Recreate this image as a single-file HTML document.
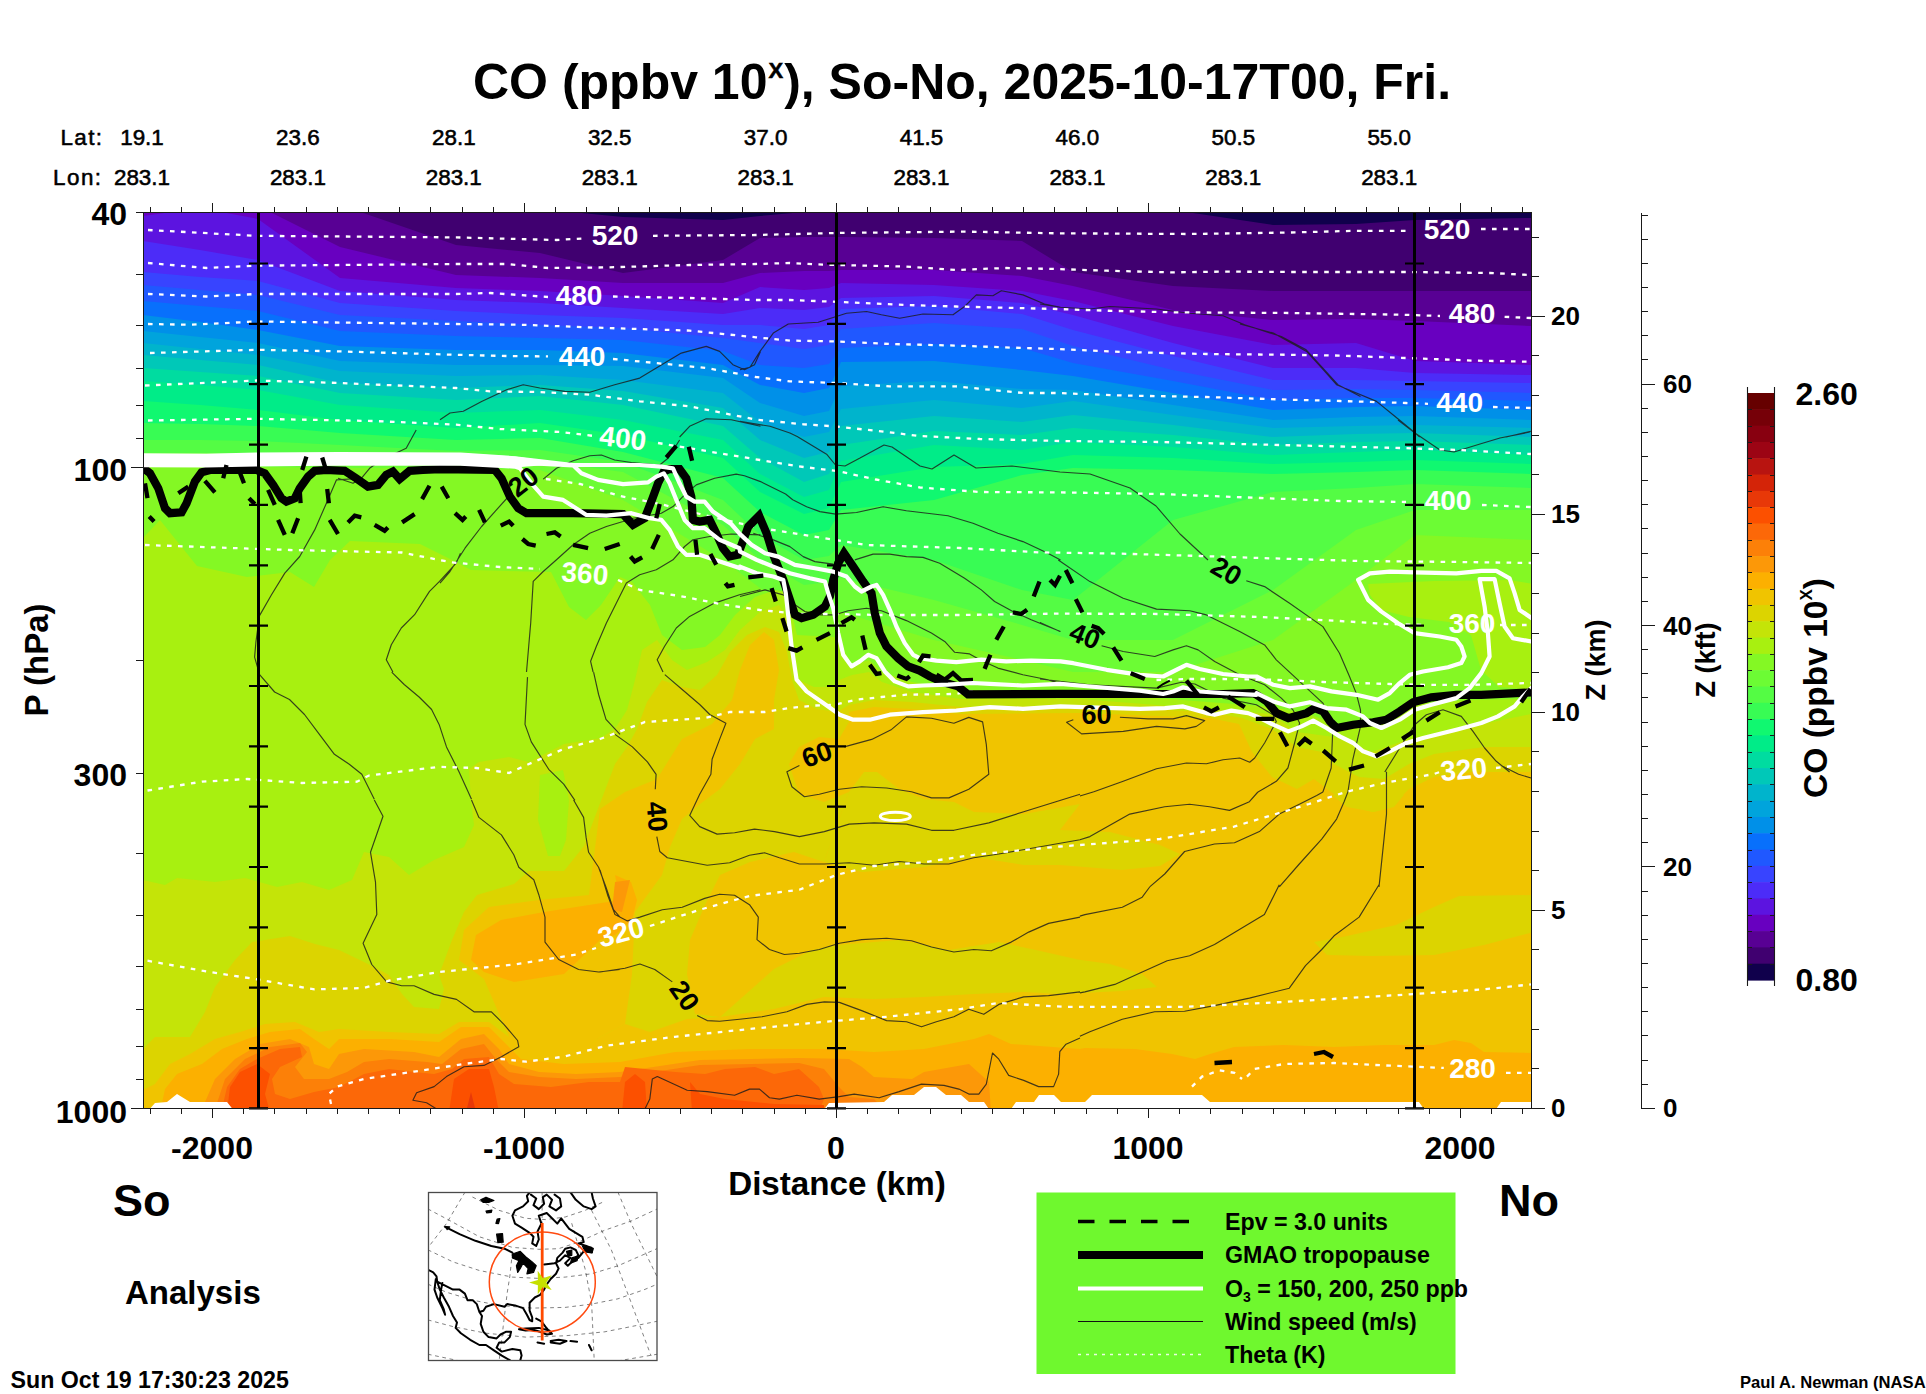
<!DOCTYPE html><html><head><meta charset="utf-8"><title>CO cross-section</title><style>
html,body{margin:0;padding:0;background:#fff;overflow:hidden}
svg{display:block}text{font-family:"Liberation Sans",sans-serif;font-weight:bold;fill:#000}
</style></head><body>
<svg width="1926" height="1394" viewBox="0 0 1926 1394">
<rect width="1926" height="1394" fill="#fff"/>
<defs><clipPath id="pc"><rect x="143.5" y="212.5" width="1388.0" height="896.0"/></clipPath></defs>
<g clip-path="url(#pc)">
<rect x="142.5" y="211.5" width="1390.0" height="898.0" fill="#10004c"/>
<path d="M142 193L143 193L200 188L258 194L340 199L456 204L540 209L623 217L723 220L760 216L804 212L829 210L841 208L934 207L1022 208L1073 209L1173 210L1273 225L1356 224L1415 220L1531 218L1534 218V1110H142Z" fill="#400070"/>
<path d="M142 199L143 199L200 194L258 200L340 205L456 245L540 253L623 273L723 260L760 238L804 237L829 237L841 237L934 238L1022 241L1073 272L1173 286L1273 291L1356 291L1415 291L1531 291L1534 291V1110H142Z" fill="#580094"/>
<path d="M142 205L143 205L200 200L258 206L340 247L456 275L540 278L623 283L723 283L760 273L804 271L829 271L841 270L934 270L1022 276L1073 286L1173 310L1273 320L1356 319L1415 321L1531 326L1534 326V1110H142Z" fill="#6800c0"/>
<path d="M142 216L143 216L200 208L258 219L340 278L456 288L540 291L623 296L723 303L760 287L804 290L829 288L841 283L934 285L1022 291L1073 301L1173 326L1273 345L1356 343L1415 361L1531 365L1534 365V1110H142Z" fill="#5c14e0"/>
<path d="M142 241L143 241L200 250L258 260L340 291L456 300L540 303L623 308L723 314L760 308L804 310L829 307L841 298L934 296L1022 303L1073 315L1173 343L1273 368L1356 368L1415 373L1531 375L1534 375V1110H142Z" fill="#4c2cf8"/>
<path d="M142 272L143 272L200 277L258 281L340 303L456 311L540 315L623 318L723 325L760 325L804 329L829 325L841 309L934 306L1022 314L1073 330L1173 356L1273 380L1356 380L1415 381L1531 383L1534 383V1110H142Z" fill="#3844ff"/>
<path d="M142 285L143 285L200 290L258 295L340 315L456 321L540 325L623 328L723 338L760 343L804 349L829 345L841 329L934 323L1022 329L1073 346L1173 370L1273 390L1356 389L1415 390L1531 393L1534 393V1110H142Z" fill="#2058ff"/>
<path d="M142 301L143 301L200 306L258 311L340 331L456 336L540 338L623 340L723 351L760 365L804 368L829 364L841 348L934 344L1022 348L1073 363L1173 381L1273 400L1356 398L1415 398L1531 401L1534 401V1110H142Z" fill="#0870fc"/>
<path d="M142 315L143 315L200 322L258 330L340 346L456 350L540 350L623 353L723 365L760 385L804 393L829 388L841 362L934 361L1022 370L1073 376L1173 393L1273 410L1356 407L1415 406L1531 410L1534 410V1110H142Z" fill="#0090e8"/>
<path d="M142 331L143 331L200 337L258 343L340 361L456 365L540 365L623 366L723 378L760 403L804 416L829 411L841 386L934 381L1022 389L1073 390L1173 405L1273 420L1356 417L1415 416L1531 420L1534 420V1110H142Z" fill="#00a4dc"/>
<path d="M142 343L143 343L200 349L258 355L340 371L456 376L540 375L623 380L723 393L760 422L804 437L829 432L841 409L934 400L1022 408L1073 401L1173 415L1273 428L1356 426L1415 425L1531 428L1534 428V1110H142Z" fill="#00b4cc"/>
<path d="M142 355L143 355L200 360L258 365L340 383L456 388L540 385L623 391L723 408L760 440L804 458L829 452L841 426L934 416L1022 422L1073 415L1173 425L1273 437L1356 434L1415 433L1531 437L1534 437V1110H142Z" fill="#00c8b8"/>
<path d="M142 368L143 368L200 372L258 376L340 393L456 400L540 396L623 405L723 426L760 458L804 482L829 474L841 445L934 431L1022 435L1073 428L1173 435L1273 445L1356 442L1415 441L1531 445L1534 445V1110H142Z" fill="#00dca0"/>
<path d="M142 381L143 381L200 385L258 390L340 405L456 413L540 410L623 420L723 440L760 474L804 497L829 490L841 461L934 445L1022 450L1073 442L1173 447L1273 455L1356 452L1415 450L1531 455L1534 455V1110H142Z" fill="#00ec88"/>
<path d="M142 401L143 401L200 405L258 410L340 420L456 428L540 423L623 435L723 458L760 492L804 514L829 508L841 482L934 467L1022 464L1073 455L1173 458L1273 464L1356 462L1415 460L1531 464L1534 464V1110H142Z" fill="#10f870"/>
<path d="M142 423L143 423L200 424L258 426L340 433L456 440L540 438L623 452L723 478L760 512L804 535L829 530L841 510L934 500L1022 475L1073 468L1173 470L1273 474L1356 472L1415 470L1531 474L1534 474V1110H142Z" fill="#38fc54"/>
<path d="M142 440L143 440L200 440L258 441L340 445L456 451L540 450L623 462L723 500L760 535L804 560L829 556L841 545L934 560L1022 590L1073 600L1173 520L1273 492L1356 488L1415 484L1531 488L1534 488V1110H142Z" fill="#54fc44"/>
<path d="M142 453L143 453L200 453L258 454L340 456L456 460L540 461L623 472L723 525L760 560L804 585L829 582L841 578L934 600L1022 625L1073 640L1173 640L1273 590L1356 530L1415 510L1531 510L1534 510V1110H142Z" fill="#6cfc34"/>
<path d="M142 467L143 467L200 467L258 467L340 468L456 468L540 470L623 500L723 560L760 588L804 610L829 611L841 612L934 640L1022 660L1073 672L1173 672L1273 640L1356 580L1415 535L1531 540L1534 540V1110H142Z" fill="#84f824"/>
<path d="M140 538L143 538L160 520L172 535L197 566L247 577L290 572L314 587L330 560L350 541L420 544L452 560L471 570L551 572L569 607L586 620L601 605L620 577L632 582L650 605L662 635L682 650L705 647L720 635L735 615L755 597L775 590L787 592L797 635L834 637L839 642L852 665L869 660L882 672L912 682L961 690L1080 692L1272 707L1309 714L1334 724L1372 724L1414 704L1470 700L1531 699L1534 699L1534 1112L140 1112Z" fill="#a8f010"/>
<path d="M1368 584L1434 581L1509 580L1534 584L1534 690L1499 687L1481 670L1471 635L1449 622L1409 617L1381 610L1370 595Z" fill="#a8f010"/>
<path d="M140 880L143 880L165 885L177 878L215 882L245 878L277 887L302 882L329 890L352 880L364 852L389 857L409 875L434 860L464 847L474 825L471 800L469 769L479 762L509 757L529 762L539 757L564 744L601 738L615 729L627 710L635 680L642 650L657 640L672 660L687 670L707 662L725 650L740 630L760 612L779 605L789 622L794 665L799 680L814 687L834 687L839 680L852 675L869 672L882 682L912 692L961 699L1080 699L1272 714L1297 732L1334 737L1372 752L1409 739L1459 729L1531 714L1534 714L1534 1112L140 1112Z" fill="#c4e408"/>
<path d="M540 775L563 770L569 800L566 840L560 856L548 856L538 820Z" fill="#a8f010"/>
<path d="M140 1049L143 1049L155 1037L190 1037L205 1012L215 987L235 960L252 942L290 936L315 944L339 950L364 962L389 975L402 994L414 1007L439 1009L444 989L439 975L452 940L464 912L477 895L514 884L529 871L564 871L584 846L596 814L615 764L627 747L637 729L647 702L662 680L682 687L700 690L717 675L730 652L747 635L765 627L779 632L787 652L792 680L799 700L817 709L837 712L849 705L874 700L912 702L961 707L1080 706L1210 712L1242 718L1272 729L1297 747L1322 752L1334 764L1359 777L1384 779L1409 764L1434 754L1484 747L1531 747L1534 747L1534 1112L140 1112Z" fill="#dcd400"/>
<path d="M155 1084L170 1064L190 1054L215 1039L240 1032L265 1024L295 1022L319 1032L339 1029L389 1032L439 1034L459 1022L489 1022L509 1037L484 979L459 960L464 930L489 907L539 900L589 895L600 809L625 792L657 779L682 739L712 724L732 700L740 670L750 645L764 632L774 640L779 670L774 700L774 729L755 739L740 764L720 789L700 804L682 819L670 847L662 875L635 912L632 974L625 1024L600 1037L590 1045L600 1112L143 1112L143 1090Z" fill="#f0c400"/>
<path d="M789 764L799 747L819 737L839 739L849 722L849 712L874 707L912 709L961 714L1080 713L1210 718L1239 724L1252 752L1272 777L1297 789L1314 779L1347 804L1372 812L1391 807L1409 789L1434 777L1471 772L1534 772L1535 1112L590 1112L590 1045L600 1037L625 1024L650 1032L687 1019L720 1017L695 1014L687 974L690 940L705 905L720 875L750 862L794 852L824 862L849 792L824 802L799 794Z" fill="#f0c400"/>
<path d="M864 772L877 772L899 789L924 799L954 802L974 812L1024 814L1080 804L1060 830L1110 832L1160 845L1180 854L1160 866L1122 870L1060 865L1024 865L974 857L924 867L862 872L824 862L849 792Z" fill="#dcd400"/>
<path d="M720 1017L774 969L812 950L837 945L899 940L949 950L999 942L1036 950L1080 960L1060 957L1110 964L1142 974L1157 987L1122 991L1060 994L1024 992L974 994L924 997L874 999L824 997L774 1009Z" fill="#dcd400"/>
<path d="M1314 942L1347 936L1396 925L1434 907L1459 896L1534 895L1534 932L1484 945L1434 955L1372 956L1327 955Z" fill="#dcd400"/>
<path d="M1332 795L1347 807L1374 812L1394 807L1404 795Z" fill="#dcd400"/>
<path d="M165 1089L177 1074L202 1064L222 1049L247 1039L270 1032L300 1029L314 1039L329 1049L339 1039L389 1039L439 1042L461 1027L489 1027L506 1044L521 1059L564 1064L620 1062L675 1052L750 1049L824 1049L874 1052L924 1049L974 1039L989 1034L1011 1044L1080 1049L1085 1048L1135 1049L1172 1054L1195 1059L1210 1054L1234 1047L1284 1045L1334 1047L1384 1045L1434 1045L1454 1040L1471 1043L1484 1052L1534 1053L1535 1112L160 1112Z" fill="#fcb000"/>
<path d="M471 960L476 935L501 920L544 912L589 905L620 900L615 875L631 882L637 900L632 920L615 935L600 940L564 974L514 982L484 972Z" fill="#fcb000"/>
<path d="M615 882L630 880L622 912L612 910Z" fill="#fc9808"/>
<path d="M202 1109L215 1079L235 1059L260 1044L290 1039L309 1047L314 1064L329 1069L339 1054L364 1049L414 1052L439 1057L461 1039L484 1034L499 1049L509 1064L539 1072L576 1074L620 1072L700 1060L799 1058L849 1059L862 1067L874 1077L912 1079L924 1072L969 1064L989 1082L991 1112L225 1112Z" fill="#fc9808"/>
<path d="M215 1109L225 1079L245 1059L270 1047L300 1043L307 1052L295 1067L304 1079L329 1079L347 1072L364 1062L389 1059L427 1062L442 1064L461 1049L484 1044L496 1059L509 1072L539 1077L576 1079L620 1077L700 1065L799 1063L824 1069L839 1087L849 1097L874 1099L887 1112L230 1112Z" fill="#fc8008"/>
<path d="M222 1109L227 1087L240 1069L257 1059L280 1049L300 1047L302 1057L280 1067L272 1079L275 1094L290 1099L314 1092L339 1087L364 1074L389 1069L414 1072L434 1074L452 1069L464 1059L489 1057L499 1074L514 1084L551 1087L589 1082L620 1082L625 1067L675 1072L705 1074L725 1069L755 1067L774 1074L799 1069L819 1087L824 1099L819 1112L240 1112Z" fill="#fc6808"/>
<path d="M227 1112L230 1087L240 1072L257 1064L270 1074L265 1094L270 1112Z" fill="#fc5000"/>
<path d="M449 1112L454 1079L469 1069L489 1069L494 1087L499 1112Z" fill="#fc5000"/>
<path d="M466 1112L471 1092L476 1112Z" fill="#e83808"/>
<path d="M622 1112L625 1082L635 1074L645 1082L647 1112Z" fill="#fc5000"/>
<path d="M692 1112L690 1082L700 1094L725 1099L774 1104L824 1105L824 1112Z" fill="#fc5000"/>
<path d="M147 1112L155 1103L167 1102L177 1094L190 1102L227 1102L235 1112Z" fill="#fff"/>
<path d="M822 1112L829 1103L884 1102L892 1095L914 1095L924 1087L936 1087L946 1095L961 1095L969 1102L984 1102L991 1112Z" fill="#fff"/>
<path d="M1009 1112L1016 1102L1034 1102L1039 1095L1054 1095L1061 1102L1080 1102L1085 1102L1092 1095L1202 1095L1210 1102L1419 1102L1426 1112Z" fill="#fff"/>
<path d="M1494 1112L1501 1102L1534 1102L1534 1112Z" fill="#fff"/>
<path d="M416.2 430.0L406.2 448.3L381.3 460.0L369.6 468.3L361.3 478.3L336.4 479.9L326.4 503.2L314.7 529.9L299.7 556.5L284.8 573.1L271.5 594.8L258.1 618.1M338.0 478.3L353.0 483.3L361.3 478.3M460.5 553.2L456.2 563.1L439.5 581.4L429.5 591.4L414.6 614.7L401.3 628.0L391.3 644.7L386.3 659.7L392.9 672.0M543.2 479.1L556.5 468.3L573.1 460.8L589.8 455.8L601.4 455.0L614.7 460.0L631.4 462.5L648.0 464.1L659.7 465.0L668.0 458.3L679.6 440.0M509.9 494.9L494.9 511.6L481.6 526.5L465.0 548.2L450.0 571.5L440.0 583.1M526.5 672.0L530.7 623.0L533.2 581.4L543.2 571.5L556.5 559.8L573.1 544.8L589.8 533.2L606.4 526.5L623.0 521.5L633.0 518.2L661.3 513.2L673.0 506.6L686.3 493.2L696.3 484.9L714.6 478.3L736.2 474.1L744.5 475.8L760.5 481.6M593.1 672.0L590.6 661.3L596.4 646.3L606.4 623.0L616.4 603.1L626.4 583.1L639.7 574.8L656.3 569.8L673.0 559.8L684.6 546.5L692.9 539.8L709.6 536.5L731.2 534.0L760.5 534.9M663.0 672.0L657.2 659.7L664.6 646.3L676.3 628.0L689.6 616.4L714.6 603.1L739.5 594.8L760.5 589.8M793.2 500.0L806.6 506.7L819.9 511.6L835.7 514.1L856.5 512.5L883.1 506.7L906.4 510.8L948.0 515.8L973.0 523.3L997.9 533.3L1022.9 541.6L1047.9 553.2L1060.5 559.9M753.3 533.3L773.3 539.9L789.9 546.6L803.2 556.6L814.9 561.6L833.2 564.1M854.8 559.9L873.1 554.1L889.8 554.1L906.4 556.6L923.0 557.4L939.7 563.2L964.6 578.2L981.3 589.9L994.6 601.5L1012.9 611.5L1031.2 619.8L1060.5 631.5M740.0 596.5L765.0 589.9L783.3 594.9L794.9 604.8L804.9 611.5L819.9 614.8L834.9 614.8L848.2 610.7L866.5 608.2L881.4 610.7L906.4 620.6L931.4 633.1L944.7 641.4L954.7 652.3L969.6 653.9L981.3 660.6L997.9 668.1L1022.9 674.7L1047.9 679.7L1060.5 683.9M440.0 419.7L450.0 413.0L463.3 411.3L481.6 401.4L506.6 389.7L523.2 384.7L539.8 388.0L564.8 391.4L589.8 392.2L614.7 384.7L639.7 378.1L664.6 363.1L681.3 353.1L706.2 346.4L719.6 351.4L732.9 364.7L744.5 369.7L754.5 364.7L760.5 351.4M679.6 437.0L689.6 426.3L706.2 418.8L731.2 419.7L760.5 426.3M740.0 369.7L750.0 367.2L760.0 351.4L773.3 333.1L788.3 324.0L818.2 322.3L846.5 313.2L866.5 311.5L881.4 314.8L899.7 318.2L923.0 314.0L953.0 314.8L964.6 306.5L976.3 294.9L992.9 295.7L1001.3 290.7L1022.9 294.9L1044.5 304.0L1060.5 307.3M740.0 421.3L770.0 426.3L789.9 433.0L798.2 437.0M1040.0 304.0L1060.0 307.3L1089.9 309.0L1109.9 306.5L1156.5 309.0L1189.8 313.2L1223.0 315.7L1244.7 324.8L1281.3 336.5L1306.2 349.8L1322.9 368.1L1337.9 384.7L1360.5 396.4M1240.0 324.0L1273.3 333.1L1306.6 351.4L1323.2 369.7L1336.5 384.7L1356.5 393.0L1376.5 401.4L1394.8 416.3L1413.1 431.3L1419.7 437.0M1506.2 437.0L1530.9 431.3M860.0 458.0L884.0 445.0L892.0 447.0L920.0 466.0L932.0 469.0L954.0 455.0L976.0 468.0L1012.0 466.0L1060.0 472.0L1090.0 474.0L1130.0 488.0L1156.0 506.0L1180.0 534.0L1208.0 560.0M1398.0 420.0L1415.0 433.0L1440.0 450.0L1454.0 452.0L1480.0 444.0L1500.0 438.0L1530.0 432.0M798.0 437.0L827.0 454.6L835.5 465.0L845.0 466.0L860.0 458.0M760.5 481.6L785.6 494.0L793.0 500.0M1058.3 560.0L1089.9 581.6L1123.2 598.3L1156.5 609.1L1189.8 610.8L1206.4 614.9L1239.7 631.6L1264.6 644.9L1276.3 659.8L1297.9 679.8L1322.9 703.1L1332.9 726.4L1331.2 768.0L1322.9 792.0M1246.3 580.8L1264.6 586.6L1289.6 603.3L1322.9 626.6L1339.5 653.2L1349.5 676.5L1356.2 693.1L1360.5 709.8L1360.5 726.4L1352.8 759.7L1347.9 792.0M1040.0 622.4L1060.0 631.6M1101.6 645.7L1123.2 651.5L1154.8 656.5L1173.1 649.9L1186.4 645.7L1198.1 649.9L1214.7 661.5L1239.7 674.8L1264.6 684.8L1281.3 698.1L1292.9 709.8L1299.6 723.1L1294.6 743.0L1287.9 768.0L1276.3 781.3L1258.0 792.0M1040.0 679.0L1089.9 684.8L1156.5 688.1L1181.4 682.3L1194.8 684.0L1223.0 698.1L1256.3 704.8L1273.0 714.8L1276.3 721.4L1264.6 743.0L1254.7 758.0L1249.7 762.2L1239.7 758.0L1223.0 759.7L1206.4 763.8L1186.4 763.0L1156.5 768.8L1123.2 781.3L1093.2 792.0M1073.3 719.7L1066.6 722.2L1081.6 733.9L1123.2 731.4L1156.5 726.4L1184.8 728.9L1196.4 726.4L1204.7 720.6L1186.4 715.6L1173.1 718.9L1148.2 718.9L1119.9 717.3M1384.8 772.0L1399.7 748.0L1414.7 724.7L1426.4 714.7L1443.0 709.7L1461.3 716.4L1473.0 731.4L1484.6 748.0L1496.3 761.3L1509.6 772.0M259.6 614.8L255.9 642.2L254.6 657.1L259.6 674.6L274.6 692.0L289.5 699.5L304.5 714.5L319.4 734.4L334.4 754.3L349.3 764.3L361.8 774.3L374.3 799.2M391.7 672.1L404.2 684.5L419.1 697.0L431.6 709.5L439.1 724.4L446.5 746.9L459.0 771.8L471.5 799.2M527.5 677.1L525.0 724.4L531.3 741.9L548.7 769.3L563.7 784.2L574.9 800.4M593.6 672.1L598.6 694.5L606.0 719.4L620.0 734.4M374.3 800.0L383.0 816.2L370.5 852.3L375.5 882.2L376.8 914.6L363.1 943.3L371.8 964.5L386.7 981.9L401.7 985.7L414.1 985.7L434.1 994.4L456.5 999.4L474.0 1011.8L491.4 1011.8L503.9 1024.3L517.6 1040.5L518.8 1046.7L501.4 1056.7L483.9 1065.4L464.0 1066.7L446.5 1076.6L434.1 1086.6L416.6 1092.8L412.9 1100.3L426.6 1102.8L436.6 1109.0M471.5 800.0L478.9 817.4L501.4 834.9L513.8 854.8L518.8 867.3L533.8 879.8L538.8 894.7L545.0 917.1L545.0 942.1L558.7 959.5L578.6 969.5L598.6 972.0L620.0 969.5M573.6 800.0L583.6 817.4L586.1 837.4L588.6 852.3L598.6 867.3L606.0 887.2L613.5 909.7L620.0 917.1M615.0 734.4L632.4 746.9L647.4 761.8L656.1 774.3L655.3 789.2M656.8 836.6L659.8 851.5L667.3 857.8L687.2 861.5L707.2 865.2L729.6 862.7L749.5 855.3L764.5 852.8L779.4 857.8L799.4 864.0L824.3 864.0L849.2 862.7L874.1 865.2L899.1 861.5L924.0 864.0L948.9 864.0L973.8 857.8L998.8 854.0L1080.0 839.8M664.8 674.6L682.2 689.5L699.7 704.5L709.7 714.5L725.9 723.2L719.6 739.4L712.1 759.3L710.9 774.3L699.7 794.2L689.7 815.4L699.7 826.6L717.1 834.1L734.6 832.8L754.5 829.1L774.5 831.6L799.4 836.6L824.3 831.6L849.2 824.1L874.1 822.9L906.5 824.1L931.5 830.3L953.9 830.3L988.8 822.9L1023.7 811.7L1080.0 794.2M799.4 765.5L786.9 771.8L791.9 786.7L804.4 796.7L819.3 794.2L839.3 789.2L861.7 786.7L886.6 788.0L911.5 791.7L931.5 797.9L948.9 797.9L968.8 789.2L988.8 774.3L986.3 744.4L982.6 721.9L968.8 717.4L953.9 723.2L931.5 718.2L906.5 716.9L891.6 729.4L871.7 739.4L844.2 746.9M1079.9 796.0L1093.1 792.0M1079.9 839.8L1089.9 836.6L1129.8 814.1L1164.7 806.7L1189.6 804.2L1209.5 806.7L1229.5 810.4L1249.4 801.7L1257.9 792.0M1149.7 886.9L1164.7 874.0L1184.6 851.5L1214.5 844.0L1234.5 842.8L1259.4 831.6L1279.3 814.1L1299.3 804.2L1316.7 795.5L1322.9 792.0M1279.3 886.9L1299.3 864.0L1321.7 839.1L1336.6 819.1L1344.1 801.7L1347.9 792.0M1379.0 886.9L1384.0 839.1L1386.5 814.1L1386.5 771.8M1503.6 766.8L1518.6 774.3L1531.0 778.0M600.0 869.8L607.5 894.7L615.0 914.6L627.4 920.9L639.9 917.1L662.3 909.7L682.2 907.2L704.7 898.4L719.6 894.2L734.6 895.2L749.5 904.7L758.3 917.1L757.0 939.6L769.5 949.5L784.4 954.5L799.4 953.3L819.3 949.5L839.3 943.3L861.7 939.6L886.6 938.3L911.5 940.8L931.5 947.0L953.9 952.0L973.8 949.5L991.3 950.8L1011.2 942.1L1028.7 932.1L1048.6 923.4L1080.0 917.1M600.0 972.0L624.9 968.2L639.9 964.0L654.8 969.5L672.3 981.9M697.2 1015.6L707.2 1020.6L719.6 1021.3L739.6 1019.3L762.0 1016.8L786.9 1011.8L806.9 1004.4L824.3 1001.9L839.3 1002.4L861.7 1010.6L886.6 1020.6L906.5 1021.8L921.5 1026.8L936.4 1021.8L953.9 1016.8L968.8 1009.3L983.8 1014.3L998.8 1004.4L1023.7 996.9L1048.6 995.6L1080.0 991.9M644.9 1109.0L649.8 1099.1L652.3 1079.1L657.3 1076.6L687.2 1090.3L707.2 1091.6L734.6 1095.3L749.5 1089.1L759.5 1089.1L769.5 1097.8L779.4 1099.1L796.9 1095.3L819.3 1099.1L839.3 1096.6L854.2 1094.1L879.1 1097.8L899.1 1091.6L921.5 1084.1L943.9 1085.4L958.9 1089.1L968.8 1094.1L978.8 1094.1L986.3 1084.1L992.5 1053.0L998.8 1059.2L1008.7 1075.4L1023.7 1080.4L1038.6 1086.6L1053.6 1086.6L1058.6 1074.1L1059.8 1051.7L1066.0 1044.2L1080.0 1038.0M1079.9 916.1L1084.9 914.6L1122.3 907.2L1142.2 897.2L1149.7 887.0M1079.9 992.9L1084.9 991.9L1114.8 984.4L1142.2 972.0L1167.2 960.7L1189.6 955.8L1214.5 944.5L1239.4 929.6L1264.4 914.6L1279.3 884.7M1079.9 1036.3L1089.9 1031.8L1122.3 1019.3L1154.7 1011.8L1184.6 1011.3L1214.5 1005.6L1249.4 998.1L1289.3 988.2L1305.5 965.7L1321.7 949.5L1334.1 935.8L1359.1 917.1L1379.0 884.7" fill="none" stroke="#1c1c1c" stroke-width="1.15" stroke-opacity=".82" stroke-linejoin="round"/>
<path d="M148.0 230.0L256.0 235.8L456.0 237.4L556.0 240.0L586.0 238.3M653.0 235.8L756.0 235.0L836.0 233.0L965.0 231.6L1056.0 233.3L1190.0 234.0L1290.0 232.5L1356.0 230.8L1406.0 230.8M1481.0 229.0L1531.0 229.0M148.0 263.0L206.6 268.0L256.5 265.7L456.0 264.0L506.6 264.0L548.0 268.0L606.4 267.4L689.6 265.0L756.0 264.0L790.0 263.0L823.0 264.6L906.4 266.6L956.0 270.0L1006.0 268.0L1056.0 269.0L1106.6 270.7L1173.0 272.4L1223.0 271.6L1290.0 272.0L1406.0 272.0L1490.0 273.0L1531.0 275.0M148.0 294.0L206.6 296.5L256.5 294.0L456.0 294.0L490.0 293.0L548.0 297.0M613.0 296.5L689.6 298.0L756.0 300.0L790.0 300.0L840.0 302.0L906.0 305.0L956.0 306.5L1056.0 309.0L1106.6 310.7L1173.0 312.3L1290.0 313.0L1406.0 314.8L1440.0 316.0M1504.6 316.8L1531.0 318.0M148.0 324.0L190.0 324.8L256.5 321.5L456.0 324.0L523.0 324.8L606.0 328.0L689.6 330.6L756.0 337.3L790.0 340.6L836.5 341.4L889.8 344.0L956.0 345.6L1023.0 348.0L1056.0 349.0L1123.0 352.0L1206.0 354.0L1290.0 354.8L1340.0 355.6L1406.0 358.0L1473.0 360.6L1531.0 361.7M150.0 353.0L256.5 349.8L339.7 351.4L456.0 354.8L506.6 356.0L548.0 356.4M613.0 359.0L656.0 363.0L706.0 368.0L756.0 377.0L790.0 381.4L836.5 383.0L889.8 386.4L956.0 386.4L1023.0 393.0L1056.0 393.0L1123.0 395.5L1206.0 397.0L1290.0 399.7L1340.0 401.0L1406.0 403.0L1428.0 403.8M1493.0 407.0L1531.0 408.0M145.0 385.5L256.5 380.5L339.7 383.0L456.0 388.0L490.0 391.4L540.0 392.0L590.0 394.7L639.7 401.3L689.6 406.3L756.0 419.6L803.6 424.3L836.0 426.5L876.0 430.8L920.0 436.0L980.0 439.0L1060.0 441.0L1160.0 442.0L1280.0 445.0L1400.0 448.0L1460.0 450.0L1531.0 454.0M148.0 420.5L256.5 418.8L373.0 421.0L456.0 424.6L500.0 429.0L560.0 432.0L594.0 436.0M658.0 443.0L700.0 450.0L760.0 460.0L803.6 467.0L836.0 470.8L876.0 479.5L920.0 487.5L980.0 492.0L1060.0 492.4L1160.0 494.0L1260.0 498.0L1340.0 501.0L1406.0 502.0M1482.0 505.0L1531.0 507.0M546.0 479.0L580.0 484.0L620.0 496.0L660.0 504.0L700.0 514.0L760.0 528.0L836.0 540.0L866.0 545.0L960.0 548.0L1040.0 552.4L1120.0 553.6L1200.0 556.0L1260.0 558.0L1360.0 561.0L1460.0 562.0L1531.0 563.0M145.0 545.0L289.5 550.0L401.7 552.5L451.5 562.4L500.0 567.0L540.0 569.0M618.0 580.0L640.0 590.0L680.0 596.0L720.0 604.0L760.0 610.0L800.0 614.0L836.0 614.0L880.0 615.0L960.0 615.0L1060.0 613.6L1160.0 614.0L1260.0 617.0L1340.0 621.0L1386.0 624.0L1426.0 625.0M1500.0 625.0L1531.0 625.0M147.5 790.5L202.0 781.7L247.0 779.0L302.0 783.0L357.0 781.7L369.0 775.5L439.0 766.8L476.5 768.0L509.0 773.0L529.0 764.0L563.7 749.0L600.0 739.0L645.0 722.0L705.0 718.0L730.0 712.0L765.0 712.0L790.0 708.0L815.0 705.5L835.0 704.7L856.5 699.7L881.5 697.0L906.0 694.7L956.0 693.9L973.0 691.0M1156.5 680.0L1190.0 679.0L1223.0 679.0L1273.0 679.8L1323.0 682.0L1390.0 684.0L1423.0 684.8L1473.0 684.8L1531.0 683.0M147.5 960.7L202.0 970.7L257.0 979.4L314.5 989.4L364.0 988.0L389.0 980.7L439.0 972.0L514.0 964.5L576.0 954.5L596.0 948.0M650.0 926.0L699.7 909.7L749.5 896.0L799.4 889.7L836.8 874.8L874.0 866.0L924.0 862.3L973.8 854.8L1060.0 846.5L1160.0 839.0L1234.0 826.6L1309.0 804.0L1346.6 791.7L1384.0 783.0L1434.0 774.0L1444.0 770.5M1496.0 768.0L1531.0 764.0M331.0 1104.0L329.0 1094.0L337.0 1086.6L364.0 1079.0L414.0 1071.6L464.0 1064.0L501.0 1059.0L526.0 1061.7L563.7 1056.7L607.5 1045.5L674.8 1036.8L749.5 1029.0L824.0 1021.8L886.6 1016.8L961.4 1009.0L998.8 1003.0L1065.0 1006.9L1184.6 1006.9L1284.0 1001.9L1409.0 994.4L1483.7 989.4L1531.0 984.4M1192.0 1086.6L1202.0 1076.6L1219.5 1070.4L1234.5 1072.9L1242.0 1079.0M1247.0 1076.6L1254.4 1069.0L1284.0 1064.0L1334.0 1063.0L1384.0 1065.4L1443.8 1067.9M1506.0 1072.9L1531.0 1072.9" fill="none" stroke="#fff" stroke-width="2.3" stroke-dasharray="4.6 6.4"/>
<text transform="translate(615,235) rotate(0)" y="10" font-size="28" text-anchor="middle" fill="#fff" style="fill:#fff">520</text>
<text transform="translate(1447,229) rotate(0)" y="10" font-size="28" text-anchor="middle" fill="#fff" style="fill:#fff">520</text>
<text transform="translate(579,294.5) rotate(0)" y="10" font-size="28" text-anchor="middle" fill="#fff" style="fill:#fff">480</text>
<text transform="translate(1472,313) rotate(0)" y="10" font-size="28" text-anchor="middle" fill="#fff" style="fill:#fff">480</text>
<text transform="translate(582,355.5) rotate(0)" y="10" font-size="28" text-anchor="middle" fill="#fff" style="fill:#fff">440</text>
<text transform="translate(1459.6,402) rotate(0)" y="10" font-size="28" text-anchor="middle" fill="#fff" style="fill:#fff">440</text>
<text transform="translate(623,438) rotate(7)" y="10" font-size="28" text-anchor="middle" fill="#fff" style="fill:#fff">400</text>
<text transform="translate(1448,500) rotate(0)" y="10" font-size="28" text-anchor="middle" fill="#fff" style="fill:#fff">400</text>
<text transform="translate(585,573) rotate(5)" y="10" font-size="28" text-anchor="middle" fill="#fff" style="fill:#fff">360</text>
<text transform="translate(1472,623) rotate(0)" y="10" font-size="28" text-anchor="middle" fill="#fff" style="fill:#fff">360</text>
<text transform="translate(621,932) rotate(-15)" y="10" font-size="28" text-anchor="middle" fill="#fff" style="fill:#fff">320</text>
<text transform="translate(1463.7,769) rotate(-5)" y="10" font-size="28" text-anchor="middle" fill="#fff" style="fill:#fff">320</text>
<text transform="translate(1472.5,1068) rotate(0)" y="10" font-size="28" text-anchor="middle" fill="#fff" style="fill:#fff">280</text>
<path d="M138.3 465.0L142.5 467.5L150.0 473.3L158.3 488.3L165.0 508.2L170.0 513.2L181.6 512.4L186.6 503.2L194.9 481.6L201.6 472.4L209.9 470.0L256.5 470.0L264.8 473.3L273.1 484.9L281.4 498.2L286.4 501.6L294.8 498.2L299.7 488.3L308.1 476.6L314.7 470.8L326.4 470.0L344.7 470.8L356.3 478.3L368.0 486.6L378.0 484.9L386.3 474.9L392.9 471.6L399.6 479.1L409.6 470.8L422.9 470.0L440.0 469.1L494.9 470.0L501.6 478.3L509.9 496.6L518.2 508.2L526.5 513.2L573.1 513.2L623.0 514.1L633.0 524.9L644.7 518.2L651.3 501.6L658.0 483.3L663.8 471.6L669.6 469.1L679.6 469.1L686.3 478.3L691.3 496.6L692.9 519.9L699.6 521.5L709.6 519.9L716.2 533.2L722.9 548.2L729.5 556.5L737.9 554.8L748.3 526.6L759.1 515.8L766.6 533.3L773.3 554.9L783.3 579.9L789.9 599.8L794.9 614.8L801.6 618.1L813.2 614.8L824.9 606.5L829.9 596.5L833.2 579.9L838.2 563.2L844.0 553.2L853.2 566.6L863.1 581.5L871.5 593.2L874.8 613.2L879.8 633.1L886.4 646.4L898.1 658.1L908.1 666.4L919.7 670.6L929.7 676.4L943.0 682.2L958.0 686.4L968.0 694.4L1060.5 693.9L1156.5 694.0L1223.0 694.0L1253.0 693.1L1256.6 694.8L1266.6 701.4L1276.6 713.1L1288.3 718.1L1306.6 713.1L1314.9 708.1L1323.2 711.4L1329.9 721.4L1336.5 728.0L1353.2 724.7L1373.1 722.2L1386.4 719.7L1399.7 711.4L1413.1 702.2L1431.4 697.3L1456.3 694.8L1481.3 694.8L1532.9 692.3" fill="none" stroke="#000" stroke-width="8.2" stroke-linejoin="miter" stroke-miterlimit="3"/>
<path d="M936.4 674.7L944.7 679.7L953.0 673.1L961.3 680.6L973.0 680.1" fill="none" stroke="#000" stroke-width="4.5" stroke-linejoin="miter"/>
<path d="M138.3 455.3L206.6 455.8L256.5 454.6L339.7 454.1L460.5 454.6L514.9 458.3L573.1 465.0L606.4 465.0L639.7 465.0L661.3 466.6L673.0 468.3L679.6 483.3L686.3 496.6L694.6 501.6L704.6 501.6L712.9 511.6L731.2 524.0L740.0 534.1L751.6 544.9L765.0 553.2L778.3 556.6L794.9 564.9L814.9 568.2L833.2 571.6L846.5 576.5L854.8 586.5L861.5 591.5L871.5 586.5L876.5 584.9L883.1 594.9L889.8 609.8L896.4 626.5L904.7 643.1L913.1 654.8L919.7 658.1L936.4 660.6L956.3 662.2L981.3 659.7L1006.2 661.4L1031.2 660.6L1060.5 661.4L1073.3 663.2L1106.6 669.8L1139.8 674.8L1163.1 676.5L1173.1 671.5L1186.4 664.8L1199.7 669.0L1223.0 674.0L1248.0 676.5L1256.6 676.5L1273.3 684.8L1289.9 688.1L1309.9 686.4L1331.5 691.4L1356.5 694.8L1378.1 699.7L1389.8 693.1L1399.7 683.1L1409.7 674.8L1423.0 671.5L1448.0 667.3L1461.3 663.1L1464.6 656.5L1461.3 646.5L1456.3 639.8L1439.7 636.5L1414.7 633.2L1398.1 623.2L1381.4 611.6L1368.1 599.9L1361.5 586.6L1358.1 579.9L1369.8 573.3L1389.8 571.6L1414.7 572.4L1456.3 573.3L1481.3 570.8L1496.3 570.8L1509.6 578.3L1514.6 593.2L1519.6 609.9L1532.9 619.0M138.3 460.3L206.6 460.8L256.5 459.6L339.7 458.6L460.5 459.1L514.9 462.5L573.1 465.3L581.4 473.3L598.1 479.9L623.0 484.1L648.0 482.4L656.3 476.6L663.8 473.3L669.6 483.3L676.3 499.9L684.6 519.9L692.9 528.2L704.6 528.2L719.6 539.8L739.5 548.2L740.0 551.6L756.6 559.9L773.3 566.6L789.9 573.2L809.9 578.2L824.9 581.5L828.2 593.2L833.2 608.2L838.2 633.1L843.2 654.8L851.5 666.4L859.8 661.4L868.1 654.8L876.5 658.1L884.8 671.4L894.8 681.4L908.1 686.4L923.0 685.5L948.0 684.7L973.0 683.0L989.6 683.9L1022.9 685.5L1060.5 683.9L1089.9 686.5L1139.8 690.6L1163.1 694.0L1173.1 691.5L1183.1 687.3L1199.7 691.5L1223.0 693.1L1256.3 694.8L1256.6 693.1L1273.3 701.4L1289.9 706.4L1309.9 702.2L1326.5 708.1L1346.5 709.7L1363.1 716.4L1369.8 723.0L1381.4 728.0L1399.7 719.7L1414.7 709.7L1431.4 704.7L1456.3 698.1L1469.6 688.1L1481.3 673.1L1489.6 656.5L1487.9 633.2L1484.6 606.6L1479.6 579.1L1494.6 579.1L1499.6 603.2L1504.6 626.5L1512.9 638.2L1532.9 641.8M138.3 465.0L206.6 465.5L256.5 464.3L339.7 463.3L460.5 463.6L514.9 466.6L519.9 468.3L531.5 483.3L543.2 496.6L563.1 499.9L586.4 514.9L606.4 515.7L631.4 513.2L649.7 518.2L661.3 519.9L669.6 529.9L678.0 546.5L686.3 554.8L699.6 554.8L714.6 559.8L739.5 568.1L740.0 566.6L756.6 573.2L773.3 576.5L783.3 579.9L785.8 593.2L788.3 616.5L791.6 646.4L796.6 679.7L806.6 691.4L823.2 703.0L839.8 714.7L853.2 719.7L869.8 719.7L889.8 714.7L923.0 712.2L956.3 710.5L989.6 707.2L1022.9 708.8L1060.5 706.3L1089.9 707.3L1139.8 708.9L1164.8 708.1L1183.1 706.4L1206.4 713.1L1214.7 714.8L1231.4 710.6L1248.0 713.1L1256.6 716.4L1273.3 724.7L1288.3 731.4L1301.6 726.4L1313.2 720.6L1326.5 728.0L1339.8 736.4L1353.2 743.0L1363.1 751.3L1376.5 756.3L1389.8 751.3L1406.4 743.0L1423.0 738.0L1456.3 729.7L1481.3 723.0L1497.9 716.4L1514.6 706.4L1522.9 696.4L1532.9 686.4" fill="none" stroke="#fff" stroke-width="4.2" stroke-linejoin="round"/>
<path d="M138.3 454.0L460.5 453.3L514.9 456.6L546.5 460.8L546.5 465.0L514.9 467.5L460.5 465.0L138.3 466.3Z" fill="#fff"/>
<ellipse cx="895.3" cy="816.4" rx="15" ry="4.2" fill="none" stroke="#fff" stroke-width="3"/>
<path d="M145.0 483.3L147.5 498.2M149.2 516.5L154.1 521.5M178.3 493.2L188.3 486.6M204.9 480.8L214.9 492.4M223.2 478.3L226.5 465.0M238.2 468.3L244.0 483.3M249.0 498.2L254.8 504.1M268.1 489.9L274.8 504.9M299.7 489.9L300.6 503.2M302.2 470.0L306.4 456.6M322.2 457.5L325.5 468.3M327.2 489.1L328.9 503.2M278.1 519.9L284.8 534.9M292.3 533.2L298.1 518.2M329.7 519.9L338.0 534.0M348.0 522.4L354.7 515.7L361.3 517.4M374.6 524.9L384.6 530.7L387.9 527.4M402.1 522.4L414.6 514.1M422.1 499.1L429.5 485.8M441.7 486.6L448.3 498.2M455.0 513.2L462.5 519.9L465.8 516.5M479.1 509.9L484.9 522.4M500.7 525.7L509.1 521.5L513.2 525.7M522.4 539.0L528.2 544.0L535.7 545.7M546.5 534.0L554.8 532.4L560.6 536.5M573.1 544.8L588.1 548.2M604.7 549.0L619.7 544.0M630.5 556.5L634.7 561.5L642.2 557.3M652.2 549.0L658.8 534.9M656.3 518.2L659.7 504.1M666.3 457.5L676.3 445.8M688.8 446.7L692.1 460.8M695.4 539.8L697.1 554.8M710.4 554.0L716.2 564.8M725.4 583.1L727.9 586.4L734.5 584.8M748.3 577.4L763.3 575.7M771.6 588.2L775.8 601.5M782.4 618.1L786.6 631.5M788.3 648.1L796.6 650.6L802.4 647.3M816.5 639.8L829.9 633.1M841.5 623.1L851.5 617.3L854.8 619.8M862.3 635.6L865.6 649.8M869.8 664.7L876.5 673.9L881.4 673.1M897.3 675.6L906.4 678.9L909.7 676.4M918.9 662.2L923.0 655.6L930.5 656.4M984.6 668.9L990.4 654.8M996.3 639.8L1003.8 626.5M1012.9 612.3L1021.2 614.0L1027.1 609.8M1033.7 596.5L1039.5 581.5M1050.0 580.0L1055.0 585.0L1060.0 575.8M1065.8 570.0L1072.4 583.3M1075.8 599.1L1082.4 612.4M1091.6 625.7L1098.2 628.2L1104.1 634.1M1113.2 647.4L1121.5 660.7M1130.7 673.2L1144.8 679.0M1186.4 680.6L1198.1 694.8M1203.9 707.3L1211.4 711.4L1218.9 707.3M1228.0 696.5L1244.7 707.3M1255.8 718.9L1274.1 718.9M1279.9 732.2L1287.4 746.3M1298.2 745.5L1304.9 738.9L1311.6 743.8M1323.2 750.5L1335.7 761.3M1349.0 769.6L1364.0 765.5M1375.6 756.3L1389.8 748.0M1402.2 738.9L1413.9 731.4M1426.4 720.6L1439.7 712.2M1455.5 706.4L1470.5 700.6M1521.2 702.2L1530.4 688.9M1214.5 1063.0L1232.0 1062.0M1314.0 1054.0L1324.0 1052.0L1333.0 1057.0" fill="none" stroke="#000" stroke-width="4.3" stroke-linejoin="miter"/>
<path d="M1157.3 688.1L1163.1 684.0L1169.8 680.6" fill="none" stroke="#000" stroke-width="2"/>
<text transform="translate(523.2,481.6) rotate(-38)" y="9.5" font-size="27" text-anchor="middle">20</text>
<text transform="translate(1226.4,570.8) rotate(30)" y="9.5" font-size="27" text-anchor="middle">20</text>
<text transform="translate(1085,635.7) rotate(22)" y="9.5" font-size="27" text-anchor="middle">40</text>
<text transform="translate(1096.6,714.7) rotate(0)" y="9.5" font-size="27" text-anchor="middle">60</text>
<text transform="translate(816.8,754.3) rotate(-20)" y="9.5" font-size="27" text-anchor="middle">60</text>
<text transform="translate(657.3,816.6) rotate(85)" y="9.5" font-size="27" text-anchor="middle">40</text>
<text transform="translate(684.7,995.6) rotate(55)" y="9.5" font-size="27" text-anchor="middle">20</text>
</g>
<path d="M258.5 212.5V1108.5M836.5 212.5V1108.5M1414.5 212.5V1108.5" stroke="#000" stroke-width="3" fill="none"/>
<path d="M249.0 1108.4h19M249.0 1048.1h19M249.0 987.7h19M249.0 927.4h19M249.0 867.0h19M249.0 806.7h19M249.0 746.3h19M249.0 686.0h19M249.0 625.6h19M249.0 565.3h19M249.0 504.9h19M249.0 444.6h19M249.0 384.2h19M249.0 323.9h19M249.0 263.5h19M827.0 1108.4h19M827.0 1048.1h19M827.0 987.7h19M827.0 927.4h19M827.0 867.0h19M827.0 806.7h19M827.0 746.3h19M827.0 686.0h19M827.0 625.6h19M827.0 565.3h19M827.0 504.9h19M827.0 444.6h19M827.0 384.2h19M827.0 323.9h19M827.0 263.5h19M1405.0 1108.4h19M1405.0 1048.1h19M1405.0 987.7h19M1405.0 927.4h19M1405.0 867.0h19M1405.0 806.7h19M1405.0 746.3h19M1405.0 686.0h19M1405.0 625.6h19M1405.0 565.3h19M1405.0 504.9h19M1405.0 444.6h19M1405.0 384.2h19M1405.0 323.9h19M1405.0 263.5h19" stroke="#000" stroke-width="2.2" fill="none"/>
<g stroke="#1a1a1a" stroke-width="1.2" fill="none" shape-rendering="crispEdges">
<rect x="143.5" y="212.5" width="1388.0" height="896.0"/>
<path d="M150.5 212.5v-5.5M150.5 1108.5v5.5M181.5 212.5v-5.5M181.5 1108.5v5.5M212.5 212.5v-9.5M212.5 1108.5v9.5M243.5 212.5v-5.5M243.5 1108.5v5.5M274.5 212.5v-5.5M274.5 1108.5v5.5M306.5 212.5v-5.5M306.5 1108.5v5.5M337.5 212.5v-5.5M337.5 1108.5v5.5M368.5 212.5v-5.5M368.5 1108.5v5.5M399.5 212.5v-5.5M399.5 1108.5v5.5M430.5 212.5v-5.5M430.5 1108.5v5.5M462.5 212.5v-5.5M462.5 1108.5v5.5M493.5 212.5v-5.5M493.5 1108.5v5.5M524.5 212.5v-9.5M524.5 1108.5v9.5M555.5 212.5v-5.5M555.5 1108.5v5.5M586.5 212.5v-5.5M586.5 1108.5v5.5M618.5 212.5v-5.5M618.5 1108.5v5.5M649.5 212.5v-5.5M649.5 1108.5v5.5M680.5 212.5v-5.5M680.5 1108.5v5.5M711.5 212.5v-5.5M711.5 1108.5v5.5M742.5 212.5v-5.5M742.5 1108.5v5.5M774.5 212.5v-5.5M774.5 1108.5v5.5M805.5 212.5v-5.5M805.5 1108.5v5.5M836.5 212.5v-9.5M836.5 1108.5v9.5M867.5 212.5v-5.5M867.5 1108.5v5.5M898.5 212.5v-5.5M898.5 1108.5v5.5M930.5 212.5v-5.5M930.5 1108.5v5.5M961.5 212.5v-5.5M961.5 1108.5v5.5M992.5 212.5v-5.5M992.5 1108.5v5.5M1023.5 212.5v-5.5M1023.5 1108.5v5.5M1054.5 212.5v-5.5M1054.5 1108.5v5.5M1086.5 212.5v-5.5M1086.5 1108.5v5.5M1117.5 212.5v-5.5M1117.5 1108.5v5.5M1148.5 212.5v-9.5M1148.5 1108.5v9.5M1179.5 212.5v-5.5M1179.5 1108.5v5.5M1210.5 212.5v-5.5M1210.5 1108.5v5.5M1242.5 212.5v-5.5M1242.5 1108.5v5.5M1273.5 212.5v-5.5M1273.5 1108.5v5.5M1304.5 212.5v-5.5M1304.5 1108.5v5.5M1335.5 212.5v-5.5M1335.5 1108.5v5.5M1366.5 212.5v-5.5M1366.5 1108.5v5.5M1398.5 212.5v-5.5M1398.5 1108.5v5.5M1429.5 212.5v-5.5M1429.5 1108.5v5.5M1460.5 212.5v-9.5M1460.5 1108.5v9.5M1491.5 212.5v-5.5M1491.5 1108.5v5.5M1522.5 212.5v-5.5M1522.5 1108.5v5.5M143.5 212.5h-7.5M143.5 274.5h-7.5M143.5 325.5h-7.5M143.5 368.5h-7.5M143.5 405.5h-7.5M143.5 438.5h-7.5M143.5 467.5h-13M143.5 660.5h-7.5M143.5 773.5h-7.5M143.5 853.5h-7.5M143.5 915.5h-7.5M143.5 966.5h-7.5M143.5 1009.5h-7.5M143.5 1046.5h-7.5M143.5 1079.5h-7.5M143.5 1108.5h-13M1531.5 1108.5h13M1531.5 1068.5h7M1531.5 1029.5h7M1531.5 989.5h7M1531.5 949.5h7M1531.5 910.5h13M1531.5 870.5h7M1531.5 831.5h7M1531.5 791.5h7M1531.5 751.5h7M1531.5 712.5h13M1531.5 672.5h7M1531.5 633.5h7M1531.5 593.5h7M1531.5 553.5h7M1531.5 514.5h13M1531.5 474.5h7M1531.5 435.5h7M1531.5 395.5h7M1531.5 355.5h7M1531.5 316.5h13M1531.5 276.5h7M1531.5 237.5h7M1641.5 212.5V1108.5M1641.5 1108.5h13M1641.5 1084.5h6.5M1641.5 1060.5h6.5M1641.5 1035.5h6.5M1641.5 1011.5h6.5M1641.5 987.5h6.5M1641.5 963.5h6.5M1641.5 939.5h6.5M1641.5 915.5h6.5M1641.5 891.5h6.5M1641.5 866.5h13M1641.5 842.5h6.5M1641.5 818.5h6.5M1641.5 794.5h6.5M1641.5 770.5h6.5M1641.5 746.5h6.5M1641.5 722.5h6.5M1641.5 697.5h6.5M1641.5 673.5h6.5M1641.5 649.5h6.5M1641.5 625.5h13M1641.5 601.5h6.5M1641.5 577.5h6.5M1641.5 553.5h6.5M1641.5 528.5h6.5M1641.5 504.5h6.5M1641.5 480.5h6.5M1641.5 456.5h6.5M1641.5 432.5h6.5M1641.5 408.5h6.5M1641.5 384.5h13M1641.5 359.5h6.5M1641.5 335.5h6.5M1641.5 311.5h6.5M1641.5 287.5h6.5M1641.5 263.5h6.5M1641.5 239.5h6.5M1641.5 215.5h6.5"/>
</g>
<text x="127" y="224.7" font-size="32" text-anchor="end">40</text>
<text x="127" y="480.7" font-size="32" text-anchor="end">100</text>
<text x="127" y="785.7" font-size="32" text-anchor="end">300</text>
<text x="127" y="1122.5" font-size="32" text-anchor="end">1000</text>
<text x="212.0" y="1158.5" font-size="32" text-anchor="middle">-2000</text>
<text x="524.0" y="1158.5" font-size="32" text-anchor="middle">-1000</text>
<text x="836.0" y="1158.5" font-size="32" text-anchor="middle">0</text>
<text x="1148.0" y="1158.5" font-size="32" text-anchor="middle">1000</text>
<text x="1460.0" y="1158.5" font-size="32" text-anchor="middle">2000</text>
<text x="837" y="1195" font-size="33.2" text-anchor="middle">Distance (km)</text>
<text x="1551" y="325" font-size="26" text-anchor="start">20</text>
<text x="1551" y="523" font-size="26" text-anchor="start">15</text>
<text x="1551" y="721" font-size="26" text-anchor="start">10</text>
<text x="1551" y="919" font-size="26" text-anchor="start">5</text>
<text x="1551" y="1117" font-size="26" text-anchor="start">0</text>
<text x="1663" y="393" font-size="26" text-anchor="start">60</text>
<text x="1663" y="635" font-size="26" text-anchor="start">40</text>
<text x="1663" y="876" font-size="26" text-anchor="start">20</text>
<text x="1663" y="1117" font-size="26" text-anchor="start">0</text>
<text transform="translate(48,660) rotate(-90)" font-size="33" text-anchor="middle">P (hPa)</text>
<text transform="translate(1604.5,660) rotate(-90)" font-size="27" text-anchor="middle">Z (km)</text>
<text transform="translate(1715,660) rotate(-90)" font-size="27" text-anchor="middle">Z (kft)</text>
<text transform="translate(1827,688) rotate(-90)" font-size="33.5" text-anchor="middle">CO (ppbv 10<tspan font-size="17" dy="-15">X</tspan><tspan dy="15">)</tspan></text>
<text x="473" y="99" font-size="50">CO (ppbv 10<tspan font-size="22" dy="-21" dx="1" stroke="#000" stroke-width=".5">X</tspan><tspan dy="21" dx="1">), So-No, 2025-10-17T00, Fri.</tspan></text>
<text x="60.5" y="145" font-size="22.4" text-anchor="start" style="font-weight:normal" stroke="#000" stroke-width=".55" letter-spacing="1.4">Lat:</text>
<text x="53" y="185" font-size="22.4" text-anchor="start" style="font-weight:normal" stroke="#000" stroke-width=".55" letter-spacing="1.5">Lon:</text>
<text x="142.0" y="145" font-size="22.4" text-anchor="middle" style="font-weight:normal" stroke="#000" stroke-width=".55">19.1</text>
<text x="142.0" y="185" font-size="22.4" text-anchor="middle" style="font-weight:normal" stroke="#000" stroke-width=".55">283.1</text>
<text x="297.9" y="145" font-size="22.4" text-anchor="middle" style="font-weight:normal" stroke="#000" stroke-width=".55">23.6</text>
<text x="297.9" y="185" font-size="22.4" text-anchor="middle" style="font-weight:normal" stroke="#000" stroke-width=".55">283.1</text>
<text x="453.8" y="145" font-size="22.4" text-anchor="middle" style="font-weight:normal" stroke="#000" stroke-width=".55">28.1</text>
<text x="453.8" y="185" font-size="22.4" text-anchor="middle" style="font-weight:normal" stroke="#000" stroke-width=".55">283.1</text>
<text x="609.7" y="145" font-size="22.4" text-anchor="middle" style="font-weight:normal" stroke="#000" stroke-width=".55">32.5</text>
<text x="609.7" y="185" font-size="22.4" text-anchor="middle" style="font-weight:normal" stroke="#000" stroke-width=".55">283.1</text>
<text x="765.6" y="145" font-size="22.4" text-anchor="middle" style="font-weight:normal" stroke="#000" stroke-width=".55">37.0</text>
<text x="765.6" y="185" font-size="22.4" text-anchor="middle" style="font-weight:normal" stroke="#000" stroke-width=".55">283.1</text>
<text x="921.5" y="145" font-size="22.4" text-anchor="middle" style="font-weight:normal" stroke="#000" stroke-width=".55">41.5</text>
<text x="921.5" y="185" font-size="22.4" text-anchor="middle" style="font-weight:normal" stroke="#000" stroke-width=".55">283.1</text>
<text x="1077.4" y="145" font-size="22.4" text-anchor="middle" style="font-weight:normal" stroke="#000" stroke-width=".55">46.0</text>
<text x="1077.4" y="185" font-size="22.4" text-anchor="middle" style="font-weight:normal" stroke="#000" stroke-width=".55">283.1</text>
<text x="1233.3" y="145" font-size="22.4" text-anchor="middle" style="font-weight:normal" stroke="#000" stroke-width=".55">50.5</text>
<text x="1233.3" y="185" font-size="22.4" text-anchor="middle" style="font-weight:normal" stroke="#000" stroke-width=".55">283.1</text>
<text x="1389.2" y="145" font-size="22.4" text-anchor="middle" style="font-weight:normal" stroke="#000" stroke-width=".55">55.0</text>
<text x="1389.2" y="185" font-size="22.4" text-anchor="middle" style="font-weight:normal" stroke="#000" stroke-width=".55">283.1</text>
<text x="113" y="1216" font-size="45" text-anchor="start">So</text>
<text x="1499" y="1216" font-size="45" text-anchor="start">No</text>
<text x="125" y="1304" font-size="33" text-anchor="start">Analysis</text>
<text x="10.5" y="1388" font-size="23.2" text-anchor="start">Sun Oct 19 17:30:23 2025</text>
<text x="1740" y="1388" font-size="16.6" text-anchor="start">Paul A. Newman (NASA GSFC)</text>
<rect x="1747.5" y="393.00" width="27.0" height="16.91" fill="#660000"/>
<rect x="1747.5" y="409.31" width="27.0" height="16.91" fill="#760008"/>
<rect x="1747.5" y="425.61" width="27.0" height="16.91" fill="#880010"/>
<rect x="1747.5" y="441.92" width="27.0" height="16.91" fill="#9c0414"/>
<rect x="1747.5" y="458.22" width="27.0" height="16.91" fill="#b81410"/>
<rect x="1747.5" y="474.53" width="27.0" height="16.91" fill="#d42408"/>
<rect x="1747.5" y="490.83" width="27.0" height="16.91" fill="#e83808"/>
<rect x="1747.5" y="507.14" width="27.0" height="16.91" fill="#fc5000"/>
<rect x="1747.5" y="523.44" width="27.0" height="16.91" fill="#fc6808"/>
<rect x="1747.5" y="539.75" width="27.0" height="16.91" fill="#fc8008"/>
<rect x="1747.5" y="556.06" width="27.0" height="16.91" fill="#fc9808"/>
<rect x="1747.5" y="572.36" width="27.0" height="16.91" fill="#fcb000"/>
<rect x="1747.5" y="588.67" width="27.0" height="16.91" fill="#f0c400"/>
<rect x="1747.5" y="604.97" width="27.0" height="16.91" fill="#dcd400"/>
<rect x="1747.5" y="621.28" width="27.0" height="16.91" fill="#c4e408"/>
<rect x="1747.5" y="637.58" width="27.0" height="16.91" fill="#a8f010"/>
<rect x="1747.5" y="653.89" width="27.0" height="16.91" fill="#84f824"/>
<rect x="1747.5" y="670.19" width="27.0" height="16.91" fill="#6cfc34"/>
<rect x="1747.5" y="686.50" width="27.0" height="16.91" fill="#54fc44"/>
<rect x="1747.5" y="702.81" width="27.0" height="16.91" fill="#38fc54"/>
<rect x="1747.5" y="719.11" width="27.0" height="16.91" fill="#10f870"/>
<rect x="1747.5" y="735.42" width="27.0" height="16.91" fill="#00ec88"/>
<rect x="1747.5" y="751.72" width="27.0" height="16.91" fill="#00dca0"/>
<rect x="1747.5" y="768.03" width="27.0" height="16.91" fill="#00c8b8"/>
<rect x="1747.5" y="784.33" width="27.0" height="16.91" fill="#00b4cc"/>
<rect x="1747.5" y="800.64" width="27.0" height="16.91" fill="#00a4dc"/>
<rect x="1747.5" y="816.94" width="27.0" height="16.91" fill="#0090e8"/>
<rect x="1747.5" y="833.25" width="27.0" height="16.91" fill="#0870fc"/>
<rect x="1747.5" y="849.56" width="27.0" height="16.91" fill="#2058ff"/>
<rect x="1747.5" y="865.86" width="27.0" height="16.91" fill="#3844ff"/>
<rect x="1747.5" y="882.17" width="27.0" height="16.91" fill="#4c2cf8"/>
<rect x="1747.5" y="898.47" width="27.0" height="16.91" fill="#5c14e0"/>
<rect x="1747.5" y="914.78" width="27.0" height="16.91" fill="#6800c0"/>
<rect x="1747.5" y="931.08" width="27.0" height="16.91" fill="#580094"/>
<rect x="1747.5" y="947.39" width="27.0" height="16.91" fill="#400070"/>
<rect x="1747.5" y="963.69" width="27.0" height="16.91" fill="#10004c"/>
<path d="M1747.5 387.0V986.0M1774.5 387.0V986.0M1747.5 409.5h4.5M1774.5 409.5h-4.5M1747.5 426.5h4.5M1774.5 426.5h-4.5M1747.5 442.5h4.5M1774.5 442.5h-4.5M1747.5 458.5h4.5M1774.5 458.5h-4.5M1747.5 475.5h4.5M1774.5 475.5h-4.5M1747.5 491.5h4.5M1774.5 491.5h-4.5M1747.5 507.5h4.5M1774.5 507.5h-4.5M1747.5 523.5h4.5M1774.5 523.5h-4.5M1747.5 540.5h4.5M1774.5 540.5h-4.5M1747.5 556.5h4.5M1774.5 556.5h-4.5M1747.5 572.5h4.5M1774.5 572.5h-4.5M1747.5 589.5h4.5M1774.5 589.5h-4.5M1747.5 605.5h4.5M1774.5 605.5h-4.5M1747.5 621.5h4.5M1774.5 621.5h-4.5M1747.5 638.5h4.5M1774.5 638.5h-4.5M1747.5 654.5h4.5M1774.5 654.5h-4.5M1747.5 670.5h4.5M1774.5 670.5h-4.5M1747.5 686.5h4.5M1774.5 686.5h-4.5M1747.5 703.5h4.5M1774.5 703.5h-4.5M1747.5 719.5h4.5M1774.5 719.5h-4.5M1747.5 735.5h4.5M1774.5 735.5h-4.5M1747.5 752.5h4.5M1774.5 752.5h-4.5M1747.5 768.5h4.5M1774.5 768.5h-4.5M1747.5 784.5h4.5M1774.5 784.5h-4.5M1747.5 801.5h4.5M1774.5 801.5h-4.5M1747.5 817.5h4.5M1774.5 817.5h-4.5M1747.5 833.5h4.5M1774.5 833.5h-4.5M1747.5 850.5h4.5M1774.5 850.5h-4.5M1747.5 866.5h4.5M1774.5 866.5h-4.5M1747.5 882.5h4.5M1774.5 882.5h-4.5M1747.5 898.5h4.5M1774.5 898.5h-4.5M1747.5 915.5h4.5M1774.5 915.5h-4.5M1747.5 931.5h4.5M1774.5 931.5h-4.5M1747.5 947.5h4.5M1774.5 947.5h-4.5M1747.5 964.5h4.5M1774.5 964.5h-4.5" stroke="#1a1a1a" stroke-width="1.1" fill="none"/>
<text x="1795.5" y="404.5" font-size="32" text-anchor="start">2.60</text>
<text x="1795.5" y="990.5" font-size="32" text-anchor="start">0.80</text>
<rect x="1036.5" y="1192.5" width="419" height="181.5" fill="#6ff82e"/>
<path d="M1078 1221.5H1203" stroke="#000" stroke-width="3.6" stroke-dasharray="16.5 15"/>
<path d="M1078 1255H1203" stroke="#000" stroke-width="8"/>
<path d="M1078 1288.5H1203" stroke="#fff" stroke-width="4"/>
<path d="M1078 1321.5H1203" stroke="#111" stroke-width="1.1"/>
<path d="M1078 1354.5H1203" stroke="#fff" stroke-width="1.6" stroke-dasharray="3 5" opacity=".85"/>
<text x="1225" y="1229.5" font-size="23.2">Epv = 3.0 units</text>
<text x="1225" y="1263" font-size="23.2">GMAO tropopause</text>
<text x="1225" y="1296.5" font-size="23.2">O<tspan font-size="14" dy="5">3</tspan><tspan dy="-5"> = 150, 200, 250 ppb</tspan></text>
<text x="1225" y="1329.5" font-size="23.2">Wind speed (m/s)</text>
<text x="1225" y="1362.5" font-size="23.2">Theta (K)</text>
<defs><clipPath id="mc"><rect x="428.5" y="1192.5" width="228.5" height="168"/></clipPath></defs>
<g clip-path="url(#mc)" fill="none" stroke-linejoin="round" stroke-linecap="round">
<path d="M428.2 1250.0L453.0 1261.9L479.4 1270.5L512.4 1277.1L538.8 1278.4L565.2 1277.1L591.6 1273.8L618.0 1265.8L656.9 1248.7M428.2 1284.3L446.4 1292.2L472.8 1300.2L499.2 1305.4L532.2 1308.1L565.2 1307.4L591.6 1304.1L618.0 1298.8L644.4 1289.6L656.9 1284.3M428.2 1320.0L453.0 1326.6L486.0 1333.2L525.6 1337.1L565.2 1335.8L604.8 1331.8L631.2 1326.6L656.9 1321.3M428.2 1209.1L453.0 1222.3L479.4 1236.8L512.4 1247.4L538.8 1249.3L558.6 1248.7L578.4 1242.1L604.8 1230.2L631.2 1221.0L656.9 1209.1M472.8 1197.2L499.2 1210.4L525.6 1218.3L545.4 1219.6L565.2 1217.0L585.0 1210.4L604.8 1201.2M428.2 1354.3L459.6 1360.9M618.0 1360.9L656.9 1354.3M512.4 1252.6L509.8 1276.4L507.1 1293.6L503.2 1326.6L499.2 1360.2M591.6 1210.4L611.4 1250.0L631.2 1302.8L651.0 1355.6M618.0 1192.3L631.2 1223.6L656.9 1276.4M464.9 1192.3L446.4 1223.6L428.2 1247.4M542.1 1192.3L542.1 1223.6M571.8 1223.6L585.0 1268.5L591.6 1302.8L594.2 1360.2" stroke="#3a3a3a" stroke-width="0.8" stroke-dasharray="3 4.4" stroke-opacity=".8"/>
<path d="M428.2 1269.8L433.2 1272.4L436.5 1276.4L437.2 1281.7L445.1 1285.6L453.0 1289.6L459.6 1289.6L464.9 1293.6L467.5 1300.2L472.8 1300.2L476.8 1304.1L479.4 1312.0L483.4 1310.7L486.0 1306.8L493.9 1304.1L504.5 1306.8L507.1 1304.1L515.0 1305.4L523.0 1308.1L526.9 1314.7L529.6 1320.0L532.2 1321.3L532.2 1317.3L529.6 1310.7L529.6 1302.8L534.8 1297.5L540.1 1294.9L544.1 1289.6L546.7 1284.3L550.7 1279.0L556.0 1273.8L558.6 1268.5L556.0 1263.2L557.3 1257.9L562.6 1252.6L565.2 1248.7L570.5 1247.4L575.8 1250.0L578.4 1255.3L573.1 1260.6L567.8 1265.8L565.2 1263.2L570.5 1257.9L565.2 1255.3L559.9 1260.6L554.6 1263.2L544.1 1264.5M437.2 1281.7L439.8 1289.6L443.8 1297.5L449.0 1306.8L453.0 1316.0L457.0 1322.6L455.6 1327.9L460.9 1333.2L470.2 1339.8L479.4 1345.0L486.0 1345.0L493.9 1350.3L501.8 1355.6L509.8 1360.2M435.8 1279.0L434.5 1289.6L437.2 1297.5L442.4 1308.1L445.1 1314.7L443.8 1309.4L439.8 1300.2L441.1 1289.6L442.4 1283.0M479.4 1312.0L482.0 1316.0L480.7 1323.9L483.4 1331.8L488.6 1337.1L496.6 1338.4L500.5 1334.5L505.8 1331.8L511.1 1331.8L509.8 1337.1L504.5 1342.4L499.2 1342.4L496.6 1347.7L501.8 1351.6L512.4 1349.0L520.3 1350.3L521.6 1355.6L520.3 1360.2M519.0 1329.2L525.6 1330.5L533.5 1329.9L540.1 1331.8L546.7 1334.5L552.0 1333.8L549.4 1330.5L538.8 1327.9L525.6 1328.5L519.0 1329.2M550.7 1341.1L558.6 1339.8L566.5 1341.1L559.9 1343.7L550.7 1342.4M570.5 1341.1L577.1 1341.7M537.5 1342.4L544.1 1343.7M589.0 1345.0L591.6 1350.3M536.2 1318.6L541.4 1321.3L545.4 1326.6L550.7 1333.2M529.6 1192.3L526.9 1195.9L528.2 1201.2L523.0 1206.4L515.0 1210.4L512.4 1215.7L515.0 1223.6L521.6 1227.6L529.6 1232.8L533.5 1236.8L532.2 1243.4L536.2 1246.0L538.8 1239.4L537.5 1231.5L541.4 1223.6L538.8 1215.7L546.7 1213.0L552.0 1218.3L557.3 1223.6L561.2 1218.3L565.2 1223.6L569.2 1228.9L575.8 1232.8L582.4 1236.8L583.7 1242.1L578.4 1243.4L586.3 1246.0L592.9 1248.7L591.6 1252.6L583.7 1251.3L578.4 1257.9M445.1 1226.9L459.6 1234.2L475.4 1240.8L491.3 1246.0L504.5 1248.7L512.4 1252.6M570.5 1192.3L575.8 1199.8L583.7 1206.4L591.6 1209.1L595.6 1206.4L592.9 1198.5L591.6 1192.3M530.9 1194.6L536.2 1198.5L533.5 1205.1L538.8 1209.1L544.1 1203.8L542.8 1197.2L546.7 1194.6L552.0 1199.8L549.4 1206.4L556.0 1210.4L561.2 1206.4L559.9 1198.5L554.6 1194.6" stroke="#000" stroke-width="2"/>
<path d="M512.4 1254.0L520.3 1251.3L525.6 1256.6L532.2 1261.9L536.2 1265.8L533.5 1272.4L526.9 1273.8L528.2 1268.5L523.0 1263.2L520.3 1268.5L517.7 1272.4L516.4 1265.8L519.0 1260.6L512.4 1257.9ZM480.7 1199.8L486.0 1197.2L493.9 1200.5L488.6 1202.5L483.4 1202.5ZM486.0 1211.1L491.9 1210.1L491.3 1212.4L486.7 1212.8ZM497.2 1219.0L499.9 1218.6L498.5 1223.6L495.9 1223.3ZM496.6 1234.2L502.5 1233.5L503.2 1242.1L497.9 1242.7ZM445.1 1226.5L449.7 1226.9L447.1 1229.5ZM566.5 1251.3L571.8 1250.0L571.8 1255.3L567.8 1255.9ZM571.8 1257.9L578.4 1255.9L577.1 1260.6L570.5 1263.2ZM582.4 1246.0L591.6 1247.4L592.3 1252.6L585.0 1251.3Z" fill="#000" stroke="#000" stroke-width="1.2"/>
<ellipse cx="542.3" cy="1282" rx="53" ry="50" stroke="#ff4a10" stroke-width="1.5"/>
<path d="M542.2 1223V1340.5" stroke="#ff4a00" stroke-width="2.8" stroke-linecap="butt"/>
<path d="M537.7 1270.7L543.0 1278.2L551.7 1275.3L546.2 1282.6L551.7 1289.9L543.0 1287.0L537.7 1294.5L537.9 1285.3L529.1 1282.6L537.9 1279.9Z" fill="#c6e000" stroke="none"/>
</g>
<rect x="428.5" y="1192.5" width="228.5" height="168" fill="none" stroke="#4a4a4a" stroke-width="1.3"/>
</svg></body></html>
